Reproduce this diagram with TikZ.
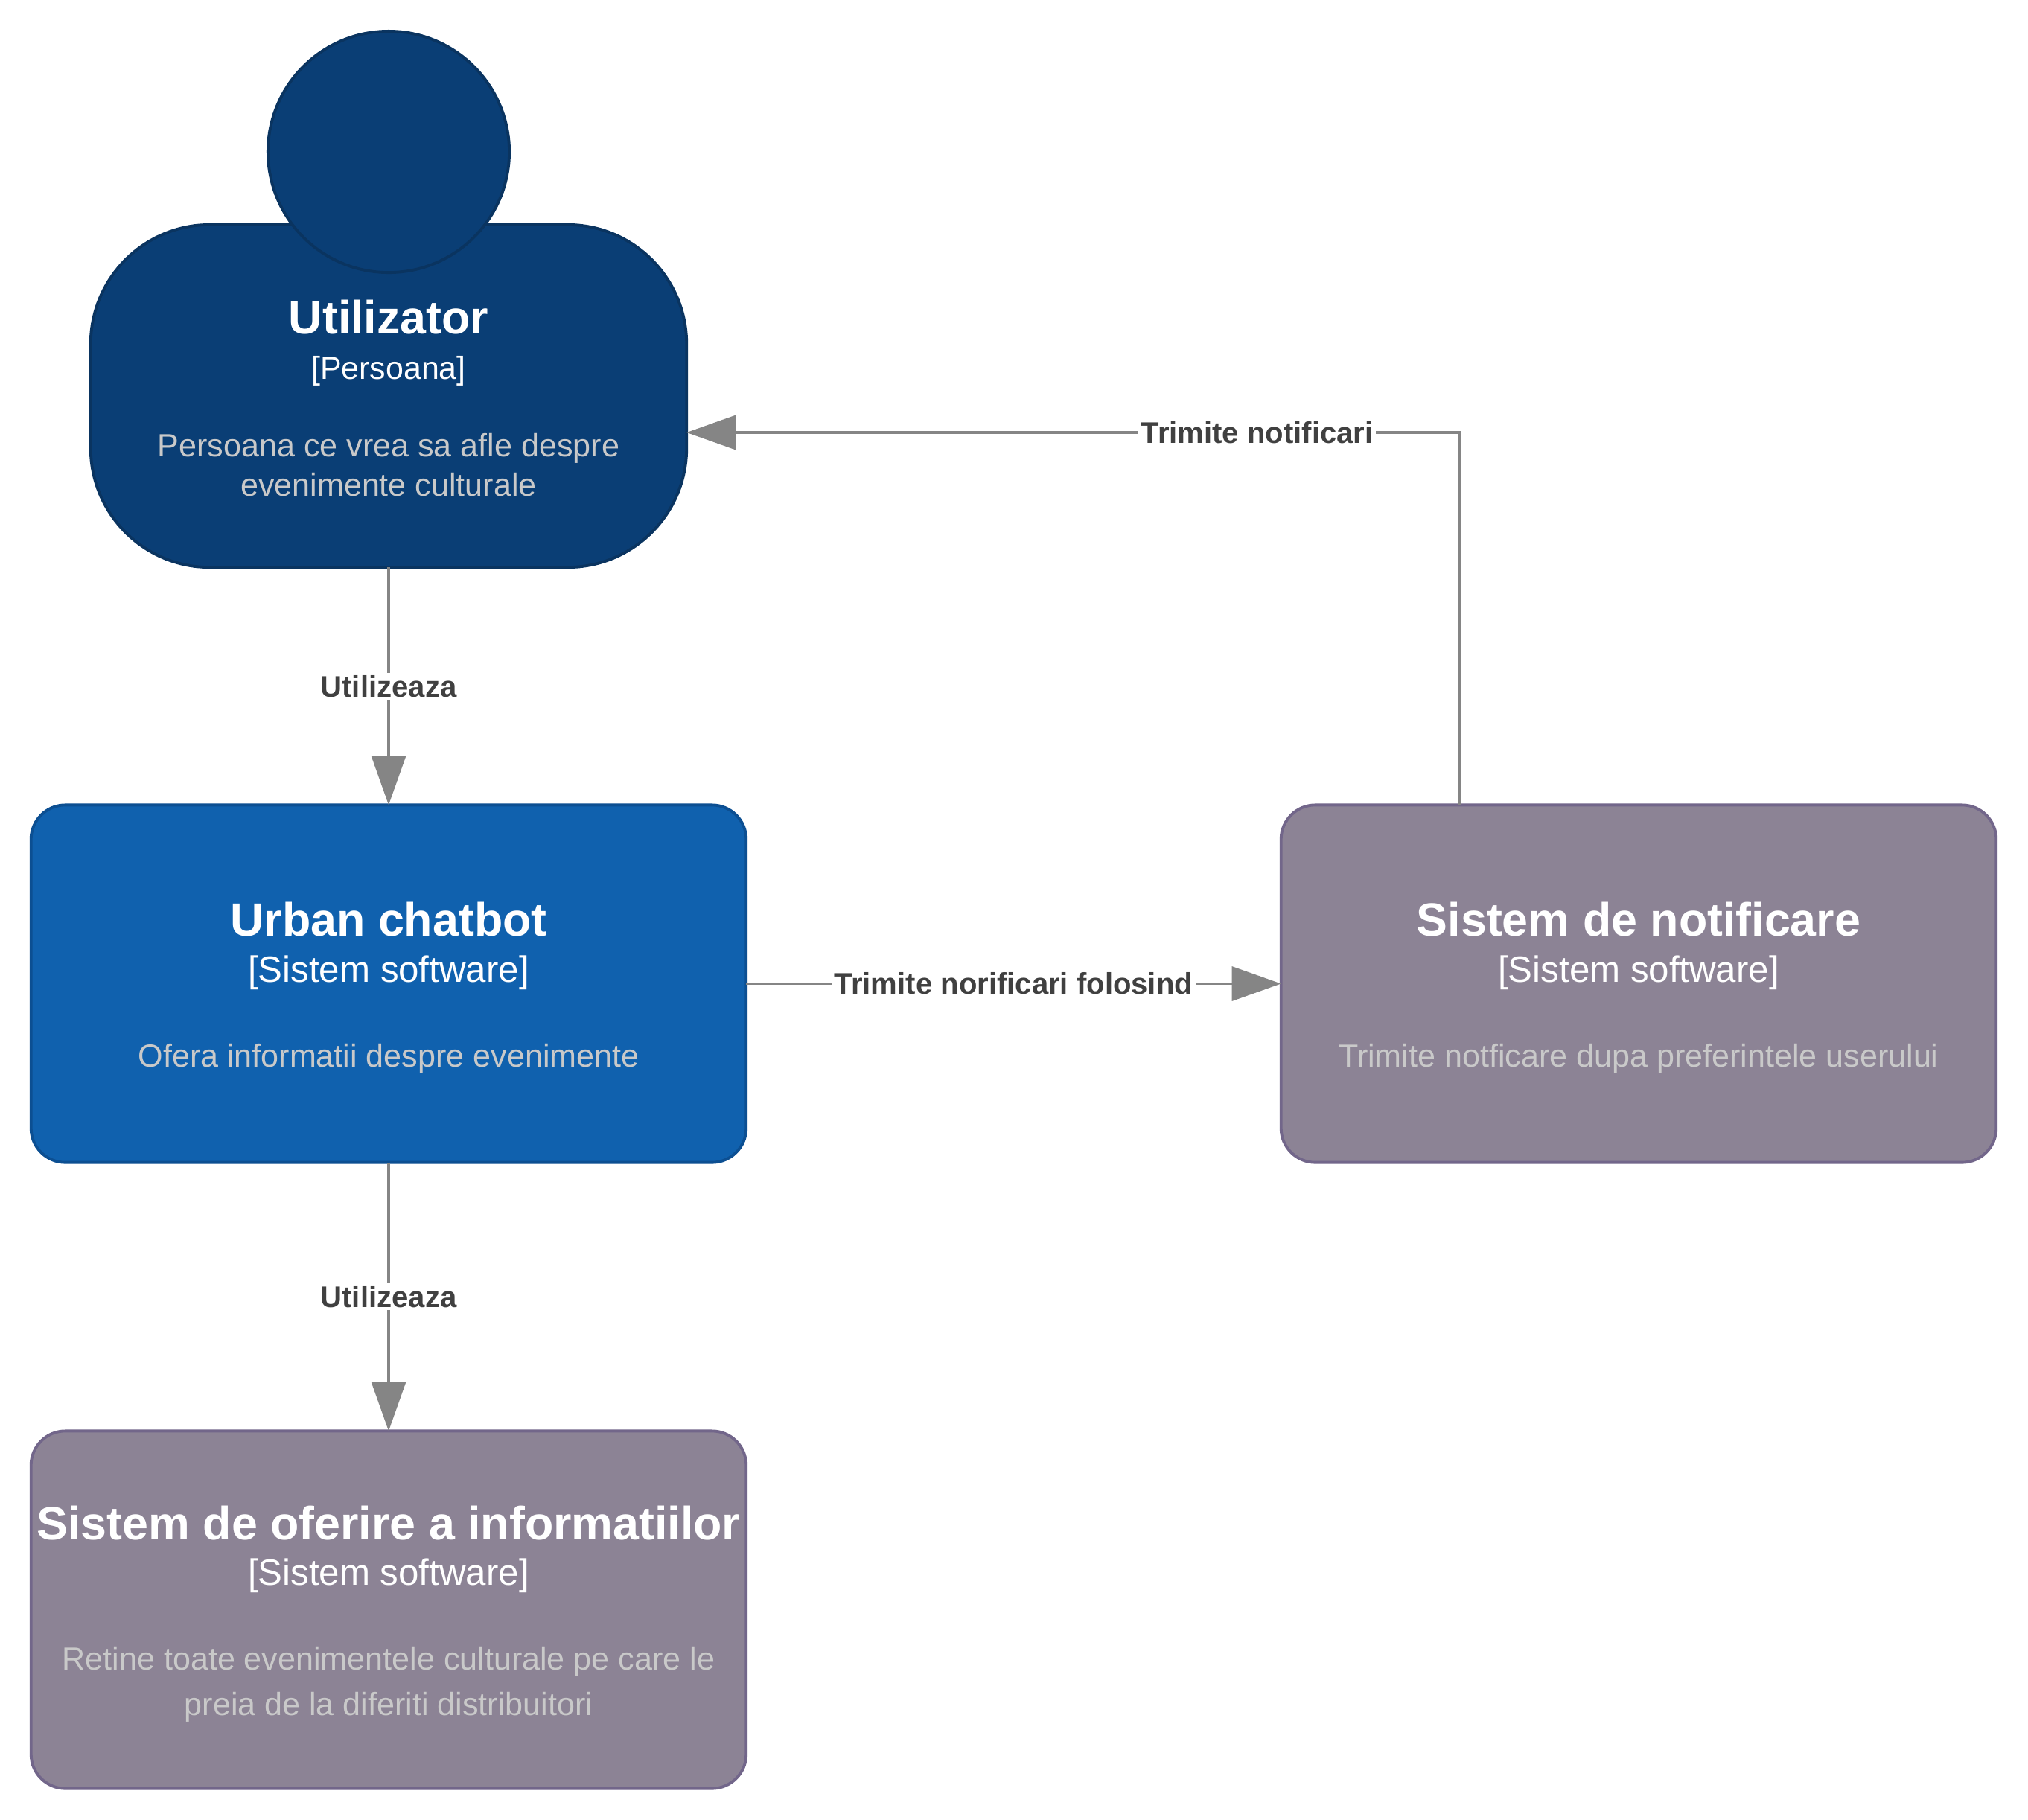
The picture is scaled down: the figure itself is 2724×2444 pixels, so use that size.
\documentclass[tikz,border=0pt]{standalone}
\usepackage{fontspec}
\setmainfont{Liberation Sans}
\usetikzlibrary{arrows.meta, calc}

\definecolor{personfill}{HTML}{0A3E75}
\definecolor{persondraw}{HTML}{0A3460}
\definecolor{chatfill}{HTML}{1061AE}
\definecolor{chatdraw}{HTML}{0C4F92}
\definecolor{extfill}{HTML}{8C8395}
\definecolor{extdraw}{HTML}{72668A}
\definecolor{descgrey}{HTML}{C9C9C9}
\definecolor{linkgrey}{HTML}{858585}
\definecolor{labelgrey}{HTML}{404040}

\newcommand{\titleline}[2][16.2pt]{{\color{white}\fontsize{17.84}{18}\bfseries\selectfont\rule{0pt}{#1}#2}}
\newcommand{\typeline}[2][14]{{\color{white}\fontsize{#1}{18}\selectfont [#2]}}
\newcommand{\descline}[1]{{\color{descgrey}\fontsize{12.25}{18}\selectfont #1}}

\tikzset{
  every node/.style={outer sep=0pt},
  card/.style={rectangle, draw, line width=1.1pt, align=center, inner sep=0pt,
    font=\fontsize{12}{17.4}\selectfont,
    minimum width=9.6cm, minimum height=4.8cm, rounded corners=0.46cm},
  chatcard/.style={card, fill=chatfill, draw=chatdraw},
  extcard/.style={card, fill=extfill, draw=extdraw},
  bodycard/.style={card, fill=personfill, draw=persondraw,
    minimum width=8cm, minimum height=4.6cm, rounded corners=1.6cm},
  headcard/.style={circle, draw=persondraw, fill=personfill, line width=1.1pt,
    minimum size=3.24cm, inner sep=0pt},
  link/.style={draw=linkgrey, line width=0.95pt,
    -{Triangle[length=0.66cm, width=0.46cm, fill=linkgrey]}},
  linklabel/.style={fill=white, text=labelgrey, font=\fontsize{11.4}{13}\bfseries\selectfont,
    inner xsep=1pt, inner ysep=1pt}
}

\begin{document}
\begin{tikzpicture}[x=0.01cm, y=-0.01cm]
  \useasboundingbox (0,0) rectangle (2724,2444);

  % person
  \node[bodycard] (user) at (522,532) {\titleline[14.5pt]{Utilizator}\\\typeline[12.2]{Persoana}\\[12.2pt]\descline{Persoana ce vrea sa afle despre}\\[-2.4pt]\descline{evenimente culturale}};
  \node[headcard] (head) at (522,204) {};

  % software systems
  \node[chatcard] (chatbot) at (522,1321.5) {\titleline{Urban chatbot}\\\typeline{Sistem software}\\[15pt]\descline{Ofera informatii despre evenimente}};
  \node[extcard] (notif) at (2201,1321.5) {\titleline{Sistem de notificare}\\\typeline{Sistem software}\\[15pt]\descline{Trimite notficare dupa preferintele userului}};
  \node[extcard] (info) at (522,2162.5) {\titleline{Sistem de oferire a informatiilor}\\\typeline{Sistem software}\\[15pt]\descline{Retine toate evenimentele culturale pe care le}\\\descline{preia de la diferiti distribuitori}};

  % connectors
  \draw[link] (user.south) -- (chatbot.north) node[pos=0.5, linklabel] (lblA) {Utilizeaza};
  \draw[link] (chatbot.south) -- (info.north) node[pos=0.5, linklabel] (lblB) {Utilizeaza};
  \draw[link] (chatbot.east) -- (notif.west) node[pos=0.5, linklabel] (lblC) {Trimite norificari folosind};
  \coordinate (notifout) at ($(notif.north west)+(240,0)$);
  \coordinate (userin) at (user.east |- 0,581);
  \draw[link] (notifout) |- (userin) node[pos=0.631, linklabel] (lblD) {Trimite notificari};
\end{tikzpicture}
\end{document}
